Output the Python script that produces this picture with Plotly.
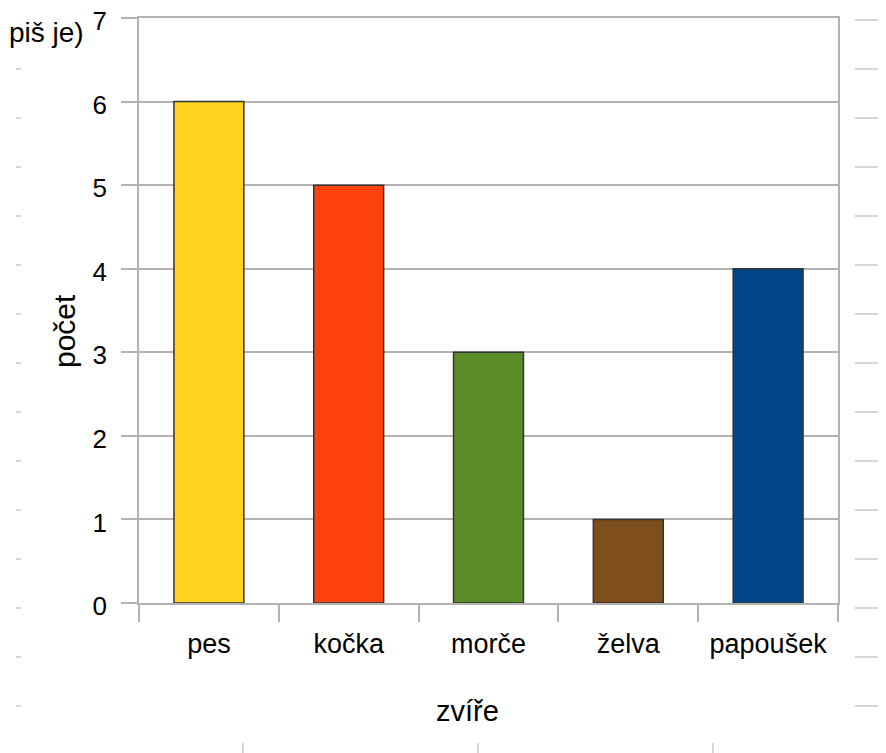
import plotly.graph_objects as go

categories = ["pes", "kočka", "morče", "želva", "papoušek"]
counts = [6, 5, 3, 1, 4]
colors = ["#FFD320", "#FF420E", "#5A8C28", "#7E4E1C", "#004586"]
y_ticks = [0, 1, 2, 3, 4, 5, 6, 7]

FONT = "Liberation Sans, Arial, sans-serif"
GRID = "#b3b3b3"
DASH = "#c8c8c8"

# page body adds an 8px offset; lay out in screen pixels and convert
OFF = 8
W, H = 886 - OFF, 753 - OFF
ml, mt = 139 - OFF, 18 - OFF
mr = W - (838 - OFF)
mb = H - (603 - OFF)
pw, ph = W - ml - mr, H - mt - mb

def px_x(x):
    return (x - OFF - ml) / pw

def px_y(y):
    return (H - mb - (y - OFF)) / ph

fig = go.Figure()
fig.add_trace(go.Bar(
    x=categories, y=counts,
    marker=dict(color=colors, line=dict(color="#333333", width=1.5)),
    width=0.5,
))

# decorative background ruler dashes
shapes = []
for i in range(14):
    yy = 69 + 49 * i
    shapes.append(dict(type="line", xref="paper", yref="paper",
                       x0=px_x(16), x1=px_x(21), y0=px_y(yy), y1=px_y(yy),
                       line=dict(color=DASH, width=1.5)))
for i in range(15):
    yy = 20 + 49 * i
    shapes.append(dict(type="line", xref="paper", yref="paper",
                       x0=px_x(855), x1=px_x(890), y0=px_y(yy), y1=px_y(yy),
                       line=dict(color=DASH, width=1.5)))
for xx in (243, 478, 713):
    shapes.append(dict(type="line", xref="paper", yref="paper",
                       x0=px_x(xx), x1=px_x(xx), y0=px_y(743), y1=px_y(756),
                       line=dict(color=DASH, width=1.5)))

fig.update_layout(
    width=W, height=H,
    margin=dict(l=ml, r=mr, t=mt, b=mb, autoexpand=False),
    paper_bgcolor="white", plot_bgcolor="white",
    showlegend=False,
    font=dict(family=FONT, size=26, color="black"),
    shapes=shapes,
    annotations=[
        dict(text="piš je)", xref="paper", yref="paper",
             x=px_x(86), y=px_y(32), xanchor="right", yanchor="middle",
             showarrow=False, font=dict(size=28, family=FONT, color="black")),
        dict(text="počet", xref="paper", yref="paper",
             x=px_x(64), y=px_y(331), xanchor="center", yanchor="middle",
             textangle=-90, showarrow=False,
             font=dict(size=30, family=FONT, color="black")),
        dict(text="zvíře", xref="paper", yref="paper",
             x=px_x(467), y=px_y(711), xanchor="center", yanchor="middle",
             showarrow=False, font=dict(size=29, family=FONT, color="black")),
    ],
)
fig.update_yaxes(
    range=[0, 7], tickvals=y_ticks, ticktext=[str(v) for v in y_ticks],
    showgrid=True, gridcolor=GRID, gridwidth=1.5,
    showline=True, linecolor=GRID, linewidth=1.5, mirror=True,
    ticks="outside", ticklen=16, tickcolor=GRID, tickwidth=1.5,
    ticklabelstandoff=9, ticklabelshift=3, zeroline=False, automargin=False,
    ticklabeloverflow="allow",
    tickfont=dict(size=26, family=FONT, color="black"),
)
fig.update_xaxes(
    showgrid=False, showline=True, linecolor=GRID, linewidth=1.5, mirror=True,
    ticks="outside", ticklen=17, tickcolor=GRID, tickwidth=1.5,
    tickson="boundaries", ticklabelstandoff=16, automargin=False,
    tickfont=dict(size=27, family=FONT, color="black"),
)

fig.write_html("out.html")
